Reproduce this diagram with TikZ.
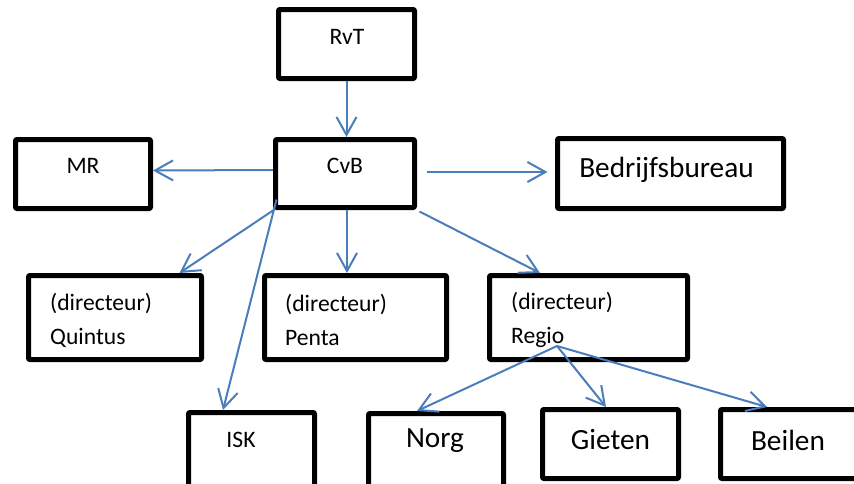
\documentclass[tikz,border=0pt]{standalone}
\usepackage{fontspec}
\setmainfont{Carlito}
\usetikzlibrary{arrows.meta}
\definecolor{orgblue}{RGB}{74,126,187}

\begin{document}
\begin{tikzpicture}[x=1pt,y=-1pt,
  box/.style={draw, line width=5pt, line join=round, rounded corners=1pt, inner sep=0pt},
  arr/.style={orgblue, line width=2pt, -{Straight Barb[length=18pt,width=20pt]}},
  small/.style={font=\fontsize{23.6}{34}\selectfont},
  big/.style={font=\fontsize{29.3}{35}\selectfont},
  dirtext/.style={small, anchor=west, align=left, inner sep=0pt}]
\useasboundingbox (0,0) rectangle (854,483);
\clip (0,0) rectangle (854,483);

% Top levels
\node[box, minimum width=136pt, minimum height=69pt] (rvt) at (346.5,44) {};
\node[small] (rvt-t) at (347,37) {RvT};
\node[box, minimum width=139pt, minimum height=68pt] (cvb) at (345,173.5) {};
\node[small] (cvb-t) at (345,166) {CvB};
\node[box, minimum width=135pt, minimum height=69pt] (mr) at (83,174) {};
\node[small] (mr-t) at (83,166) {MR};
\node[box, minimum width=226pt, minimum height=70pt] (bb) at (670.5,173.5) {};
\node[big] (bb-t) at (666.5,170) {Bedrijfsbureau};

% Directors
\node[box, minimum width=173pt, minimum height=84pt] (quintus) at (115,317.5) {};
\node[dirtext] (quintus-t) at (50,320) {(directeur)\\Quintus};
\node[box, minimum width=182pt, minimum height=84pt] (penta) at (355.5,317.5) {};
\node[dirtext] (penta-t) at (285,320) {(directeur)\\Penta};
\node[box, minimum width=198pt, minimum height=84pt] (regio) at (588.5,317.5) {};
\node[dirtext] (regio-t) at (511,320) {(directeur)\\Regio};

% Bottom row
\node[box, minimum width=126pt, minimum height=85pt] (isk) at (251.5,455) {};
\node[small] (isk-t) at (241,440) {ISK};
\node[box, minimum width=135pt, minimum height=84pt] (norg) at (436,455.5) {};
\node[big] (norg-t) at (435,441) {Norg};
\node[box, minimum width=136pt, minimum height=69pt] (gieten) at (610.5,444) {};
\node[big] (gieten-t) at (610.5,440) {Gieten};
\node[box, minimum width=139pt, minimum height=69pt] (beilen) at (790,444) {};
\node[big] (beilen-t) at (788,440) {Beilen};

% Connectors
\coordinate (hub) at ([shift={(-31.5,28.5)}]regio.center);
\draw[arr] (rvt.south) -- (rvt.south |- cvb.north);
\draw[arr] ([yshift=3.5pt]cvb.west) -- ([yshift=3.5pt]mr.east);
\draw[arr] ([xshift=9.5pt,yshift=1.5pt]cvb.east) -- ([xshift=-7.5pt,yshift=1.5pt]bb.west);
\draw[arr] ([shift={(1.5,-0.5)}]cvb.south west) -- ([xshift=-24.5pt]quintus.north east);
\draw[arr] ([shift={(3.5,-10.5)}]cvb.south west) -- ([xshift=-28.5pt]isk.north);
\draw[arr] ([xshift=2pt]cvb.south) -- ([xshift=2pt]cvb.south |- penta.north);
\draw[arr] ([shift={(2.5,1.5)}]cvb.south east) -- ([xshift=-48.5pt]regio.north);
\draw[arr] (hub) -- ([xshift=-19pt]norg.north);
\draw[arr] (hub) -- ([xshift=-4.5pt]gieten.north);
\draw[arr] (hub) -- ([xshift=-23pt]beilen.north);
\end{tikzpicture}
\end{document}
